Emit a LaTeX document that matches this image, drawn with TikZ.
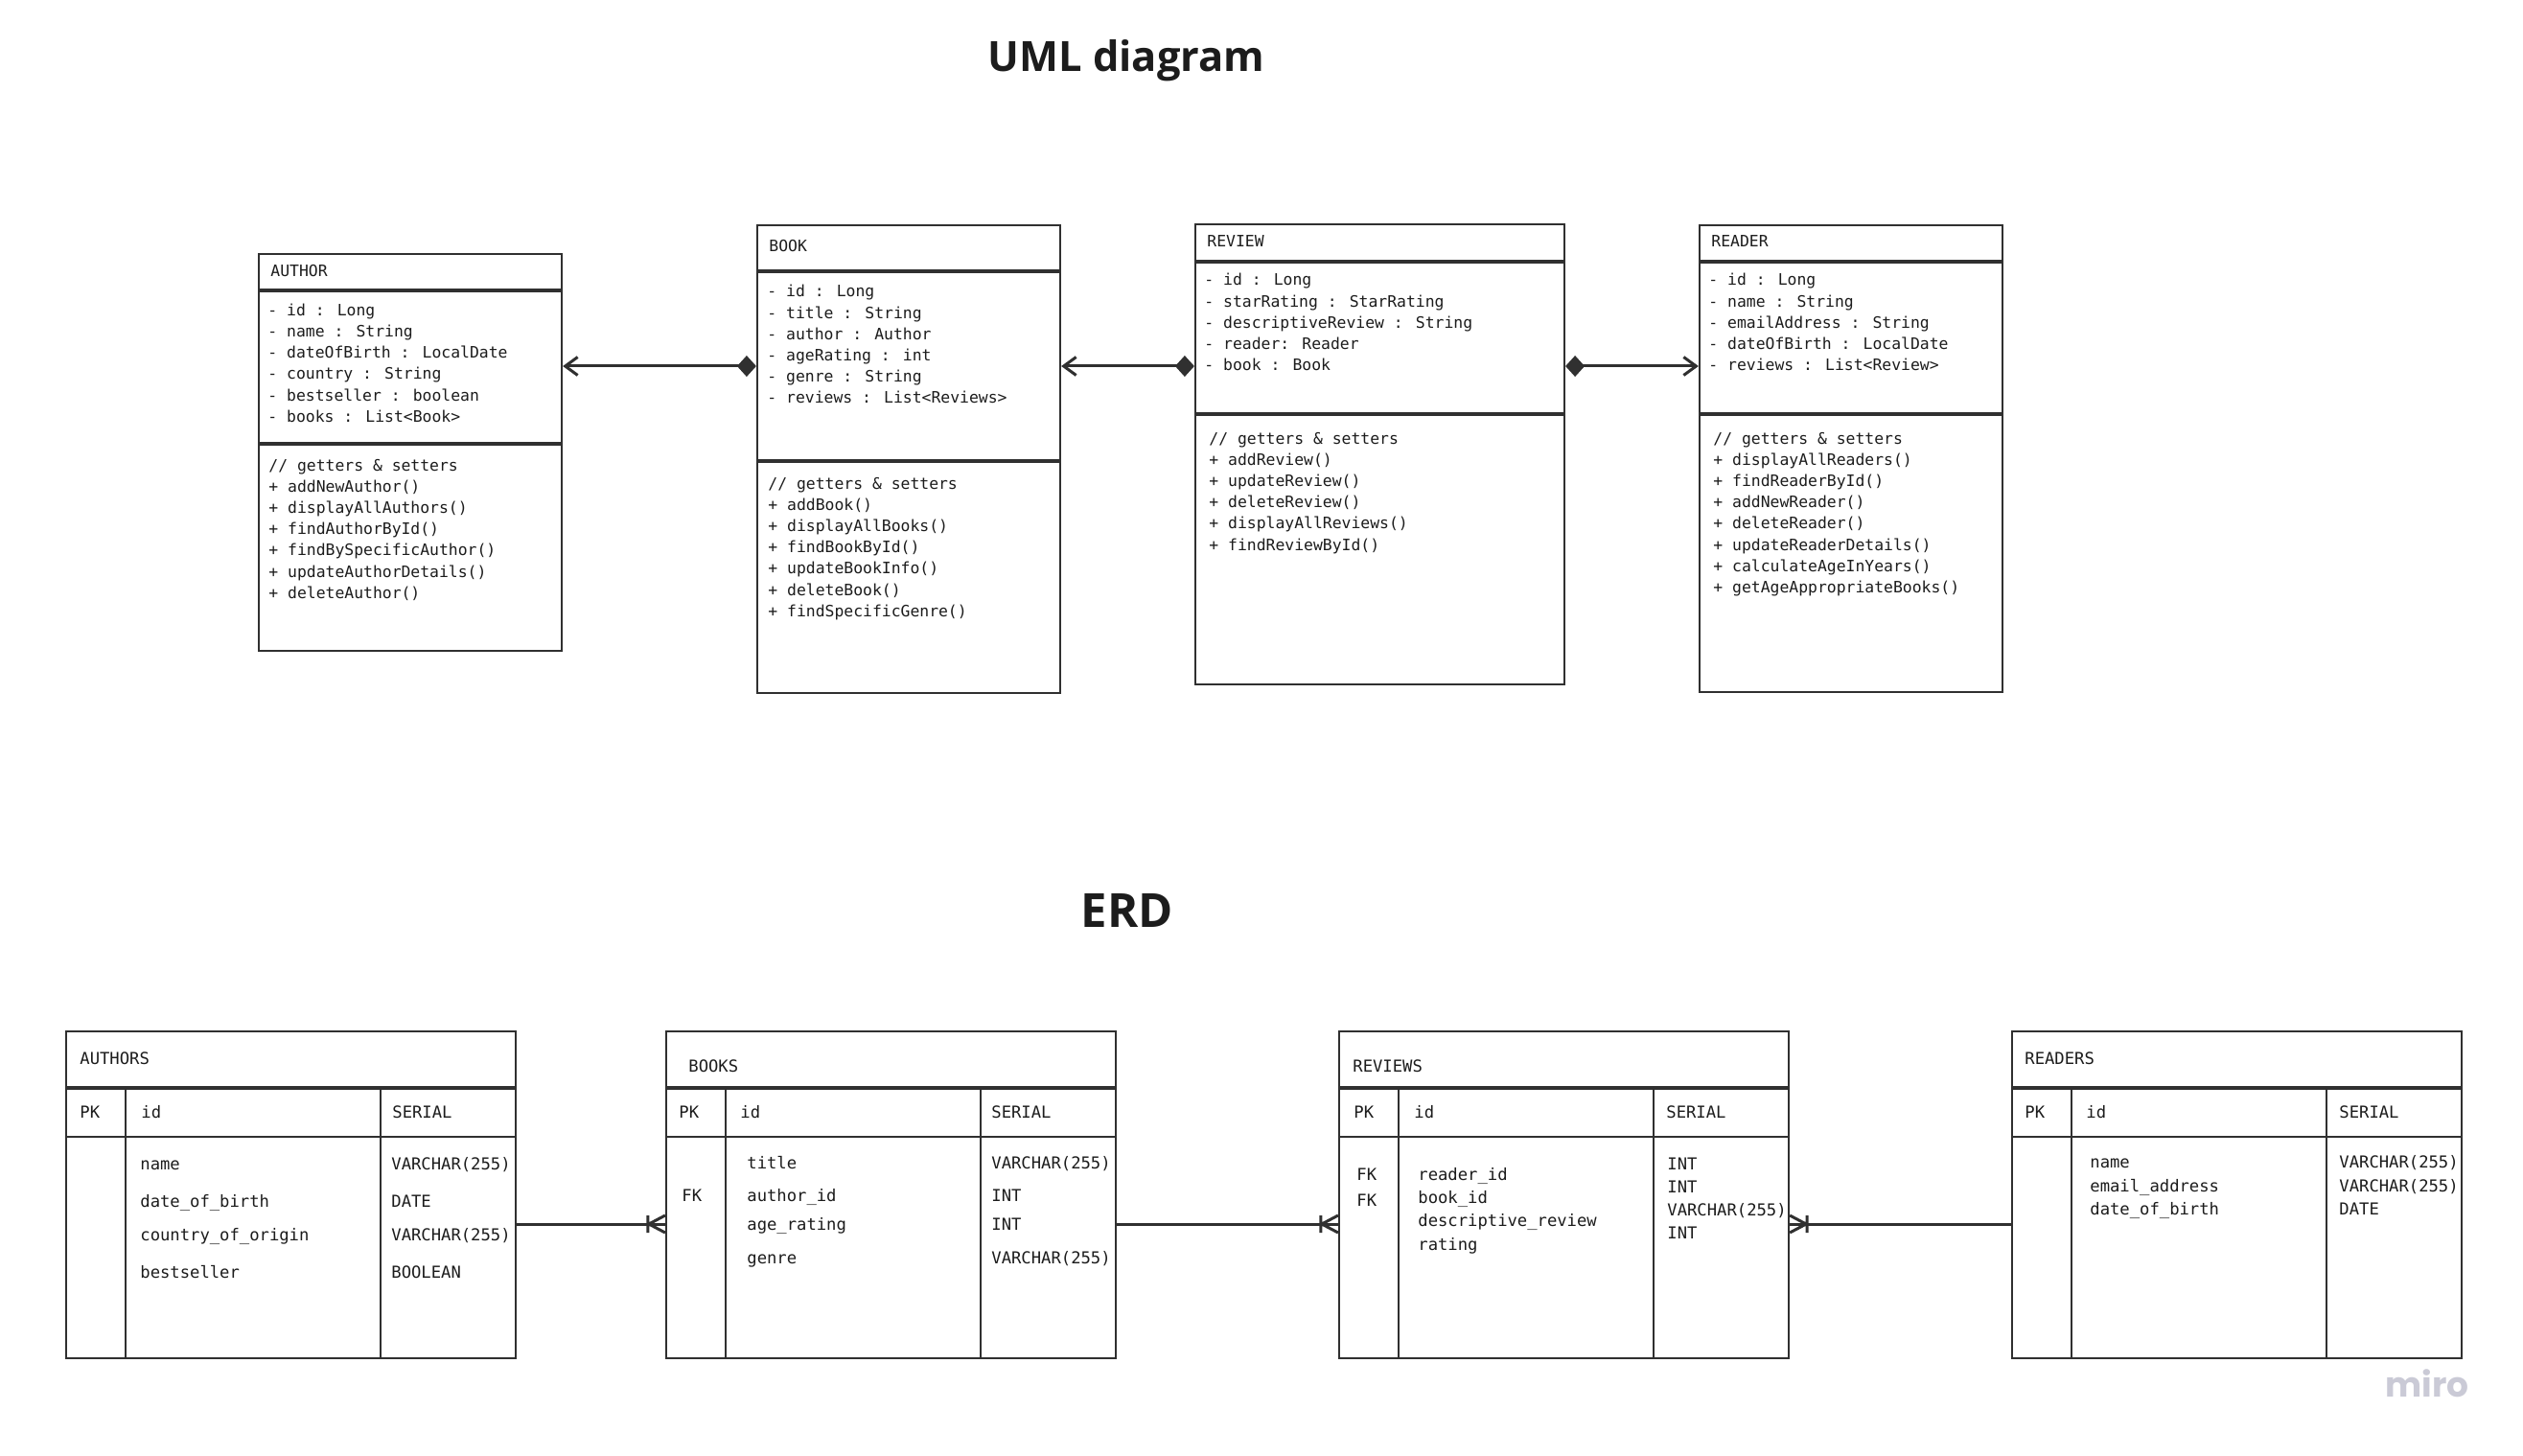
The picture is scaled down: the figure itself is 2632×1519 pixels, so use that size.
\documentclass[tikz,border=0pt]{standalone}
\usepackage{fontspec}
\usetikzlibrary{arrows.meta,fit}
\newfontfamily\monofont{DejaVu Sans Mono}
\newfontfamily\headfont{Open Sans}
\newfontfamily\logofont{Poppins}
\definecolor{ink}{HTML}{1C1C1C}
\definecolor{edge}{HTML}{303030}
\definecolor{logogray}{HTML}{CACAD6}
\tikzset{
  umltxt/.style={anchor=base west, inner sep=0pt, text=ink, font=\monofont\fontsize{8.2}{10}\selectfont},
  erdtxt/.style={anchor=base west, inner sep=0pt, text=ink, font=\monofont\fontsize{8.6}{10}\selectfont},
  titletxt/.style={anchor=base, inner sep=0pt, text=ink},
  classbox/.style={draw=edge, line width=1.1pt, inner sep=0pt},
  sepline/.style={draw=edge, line width=1.8pt},
  thinline/.style={draw=edge, line width=1.1pt},
  assoc/.style={draw=edge, line width=1.5pt, arrows={Diamond[length=10pt,width=11pt]-Straight Barb[length=6.5pt,width=9.5pt]}},
  relline/.style={draw=edge, line width=1.5pt},
  crowfoot/.pic={\draw[relline] (0,-9) -- (-17,0) -- (0,9) (-18,-9) -- (-18,9);}
}
\begin{document}
\begin{tikzpicture}[x=0.5pt, y=-0.5pt]
\useasboundingbox (0,0) rectangle (2632,1519);
% titles
\node[titletxt, font=\headfont\bfseries\fontsize{21.7}{26}\selectfont] (umltitle) at (1175,75) {UML diagram};
\node[titletxt, font=\headfont\bfseries\fontsize{24.5}{28}\selectfont] (erdtitle) at (1176,967) {ERD};

% UML: Author
\node[classbox, fit={(270,265) (586,679)}] (author) {};
\draw[sepline] (270,303) -- (586,303);
\draw[sepline] (270,463) -- (586,463);
\node[umltxt] (authorname) at (282,289) {AUTHOR};
\foreach \txt [count=\i from 0] in {- id : Long, - name : String, - dateOfBirth : LocalDate, - country : String, - bestseller : boolean, - books : List<Book>}
  \node[umltxt] (authorattr\i) at (279,329+22.3*\i) {\txt};
\foreach \txt [count=\i from 0] in {// getters \& setters, + addNewAuthor(), + displayAllAuthors(), + findAuthorById(), + findBySpecificAuthor(), + updateAuthorDetails(), + deleteAuthor()}
  \node[umltxt] (authorop\i) at (280,491+22.2*\i) {\txt};

% UML: Book
\node[classbox, fit={(790,235) (1106,723)}] (book) {};
\draw[sepline] (790,283) -- (1106,283);
\draw[sepline] (790,481) -- (1106,481);
\node[umltxt] (bookname) at (802,263) {BOOK};
\foreach \txt [count=\i from 0] in {- id : Long, - title : String, - author : Author, - ageRating : int, - genre : String, - reviews : List<Reviews>}
  \node[umltxt] (bookattr\i) at (800,310+22.2*\i) {\txt};
\foreach \txt [count=\i from 0] in {// getters \& setters, + addBook(), + displayAllBooks(), + findBookById(), + updateBookInfo(), + deleteBook(), + findSpecificGenre()}
  \node[umltxt] (bookop\i) at (801,510+22.2*\i) {\txt};

% UML: Review
\node[classbox, fit={(1247,234) (1632,714)}] (review) {};
\draw[sepline] (1247,273) -- (1632,273);
\draw[sepline] (1247,432) -- (1632,432);
\node[umltxt] (reviewname) at (1259,258) {REVIEW};
\foreach \txt [count=\i from 0] in {- id : Long, - starRating : StarRating, - descriptiveReview : String, - reader: Reader, - book : Book}
  \node[umltxt] (reviewattr\i) at (1256,298+22.2*\i) {\txt};
\foreach \txt [count=\i from 0] in {// getters \& setters, + addReview(), + updateReview(), + deleteReview(), + displayAllReviews(), + findReviewById()}
  \node[umltxt] (reviewop\i) at (1261,463+22.2*\i) {\txt};

% UML: Reader
\node[classbox, fit={(1773,235) (2089,722)}] (reader) {};
\draw[sepline] (1773,273) -- (2089,273);
\draw[sepline] (1773,432) -- (2089,432);
\node[umltxt] (readername) at (1785,258) {READER};
\foreach \txt [count=\i from 0] in {- id : Long, - name : String, - emailAddress : String, - dateOfBirth : LocalDate, - reviews : List<Review>}
  \node[umltxt] (readerattr\i) at (1782,298+22.2*\i) {\txt};
\foreach \txt [count=\i from 0] in {// getters \& setters, + displayAllReaders(), + findReaderById(), + addNewReader(), + deleteReader(), + updateReaderDetails(), + calculateAgeInYears(), + getAgeAppropriateBooks()}
  \node[umltxt] (readerop\i) at (1787,463+22.2*\i) {\txt};

% UML links
\coordinate (umllink) at (0,382);
\draw[assoc] (book.west |- umllink) -- (author.east |- umllink);
\draw[assoc] (review.west |- umllink) -- (book.east |- umllink);
\draw[assoc] (review.east |- umllink) -- (reader.west |- umllink);

% ERD tables
\foreach \x/\tb in {69/authors, 695/books, 1397/reviews, 2099/readers} {
  \node[classbox, fit={(\x,1076) (\x+469,1417)}] (\tb) {};
  \draw[sepline] (\x,1135) -- (\x+469,1135);
  \draw[thinline] (\x,1186) -- (\x+469,1186);
  \draw[thinline] (\x+62,1135) -- (\x+62,1417);
  \draw[thinline] (\x+328,1135) -- (\x+328,1417);
}

% ERD: Authors
\node[erdtxt] (authorshead) at (83,1110) {AUTHORS};
\node[erdtxt] (authorspk) at (83,1166) {PK};
\node[erdtxt] (authorsid) at (147,1166) {id};
\node[erdtxt] (authorsserial) at (409,1166) {SERIAL};
\foreach \yy/\nm/\ty [count=\i] in {1220/name/VARCHAR(255), 1259/date\_of\_birth/DATE, 1294/country\_of\_origin/VARCHAR(255), 1333/bestseller/BOOLEAN} {
  \node[erdtxt] (authorscol\i) at (146,\yy) {\nm};
  \node[erdtxt] (authorstype\i) at (408,\yy) {\ty};
}

% ERD: Books
\node[erdtxt] (bookshead) at (718,1118) {BOOKS};
\node[erdtxt] (bookspk) at (708,1166) {PK};
\node[erdtxt] (booksid) at (772,1166) {id};
\node[erdtxt] (booksserial) at (1034,1166) {SERIAL};
\node[erdtxt] (booksfk) at (711,1253) {FK};
\foreach \yy/\nm/\ty [count=\i] in {1219/title/VARCHAR(255), 1253/author\_id/INT, 1283/age\_rating/INT, 1318/genre/VARCHAR(255)} {
  \node[erdtxt] (bookscol\i) at (779,\yy) {\nm};
  \node[erdtxt] (bookstype\i) at (1034,\yy) {\ty};
}

% ERD: Reviews
\node[erdtxt] (reviewshead) at (1411,1118) {REVIEWS};
\node[erdtxt] (reviewspk) at (1412,1166) {PK};
\node[erdtxt] (reviewsid) at (1475,1166) {id};
\node[erdtxt] (reviewsserial) at (1738,1166) {SERIAL};
\node[erdtxt] (reviewsfka) at (1415,1231) {FK};
\node[erdtxt] (reviewsfkb) at (1415,1258) {FK};
\foreach \yy/\nm [count=\i] in {1231/reader\_id, 1255/book\_id, 1279/descriptive\_review, 1304/rating}
  \node[erdtxt] (reviewscol\i) at (1479,\yy) {\nm};
\foreach \yy/\ty [count=\i] in {1220/INT, 1244/INT, 1268/VARCHAR(255), 1292/INT}
  \node[erdtxt] (reviewstype\i) at (1739,\yy) {\ty};

% ERD: Readers
\node[erdtxt] (readershead) at (2112,1110) {READERS};
\node[erdtxt] (readerspk) at (2112,1166) {PK};
\node[erdtxt] (readersid) at (2176,1166) {id};
\node[erdtxt] (readersserial) at (2440,1166) {SERIAL};
\foreach \yy/\nm/\ty [count=\i] in {1218/name/VARCHAR(255), 1243/email\_address/VARCHAR(255), 1267/date\_of\_birth/DATE} {
  \node[erdtxt] (readerscol\i) at (2180,\yy) {\nm};
  \node[erdtxt] (readerstype\i) at (2440,\yy) {\ty};
}

% ERD links
\coordinate (erdlink) at (0,1277);
\draw[relline] (authors.east |- erdlink) -- (books.west |- erdlink);
\pic at (books.west |- erdlink) {crowfoot};
\draw[relline] (books.east |- erdlink) -- (reviews.west |- erdlink);
\pic at (reviews.west |- erdlink) {crowfoot};
\draw[relline] (reviews.east |- erdlink) -- (readers.west |- erdlink);
\pic[xscale=-1] at (reviews.east |- erdlink) {crowfoot};

\node[anchor=base west, inner sep=0pt, text=logogray, font=\logofont\bfseries\fontsize{18}{20}\selectfont] (miro) at (2488,1457) {miro};
\end{tikzpicture}
\end{document}
